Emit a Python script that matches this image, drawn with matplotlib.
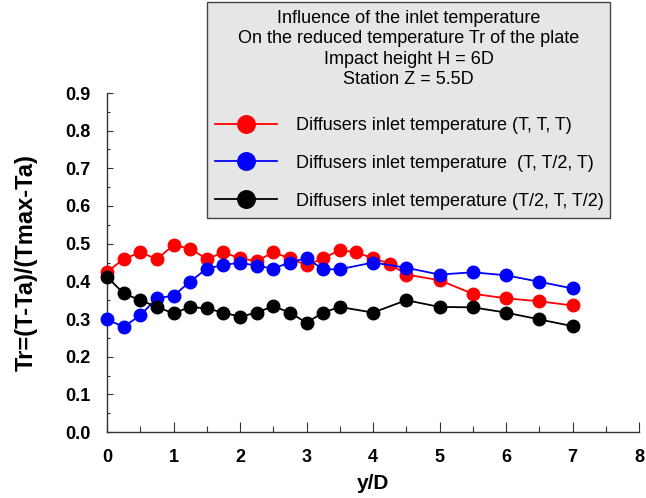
import matplotlib.pyplot as plt
from matplotlib.ticker import MultipleLocator

plt.rcParams['font.family'] = ['Liberation Sans', 'DejaVu Sans']

# y/D positions and reduced temperature values
x_red = [0, 0.25, 0.5, 0.75, 1.0, 1.25, 1.5, 1.75, 2.0, 2.25, 2.5, 2.75,
         3.0, 3.25, 3.5, 3.75, 4.0, 4.25, 4.5, 5.0, 5.5, 6.0, 6.5, 7.0]
tr_red = [0.425, 0.459, 0.477, 0.459, 0.496, 0.487, 0.459, 0.477, 0.461, 0.454, 0.477, 0.461,
          0.443, 0.461, 0.483, 0.477, 0.461, 0.447, 0.418, 0.403, 0.367, 0.355, 0.347, 0.336]

x_other = [0, 0.25, 0.5, 0.75, 1.0, 1.25, 1.5, 1.75, 2.0, 2.25, 2.5, 2.75,
           3.0, 3.25, 3.5, 4.0, 4.5, 5.0, 5.5, 6.0, 6.5, 7.0]
tr_blue = [0.299, 0.279, 0.310, 0.355, 0.362, 0.399, 0.434, 0.443, 0.450, 0.441, 0.434, 0.450,
           0.462, 0.432, 0.432, 0.450, 0.436, 0.418, 0.424, 0.416, 0.399, 0.381]
tr_black = [0.412, 0.368, 0.350, 0.332, 0.315, 0.332, 0.328, 0.317, 0.306, 0.317, 0.334, 0.317,
            0.290, 0.317, 0.332, 0.317, 0.350, 0.332, 0.331, 0.317, 0.299, 0.281]

labels = ['Diffusers inlet temperature (T, T, T)',
          'Diffusers inlet temperature  (T, T/2, T)',
          'Diffusers inlet temperature (T/2, T, T/2)']
title = ('Influence of the inlet temperature\n'
         'On the reduced temperature Tr of the plate\n'
         'Impact height H = 6D\n'
         'Station Z = 5.5D')

fig = plt.figure(figsize=(6.46, 4.98), dpi=100)
ax = fig.add_axes([107 / 646, 1 - 432 / 498, 532 / 646, 339 / 498])

h1, = ax.plot(x_red, tr_red, color='#ff0000', lw=1.3, marker='o', ms=9, clip_on=False, zorder=3)
h2, = ax.plot(x_other, tr_blue, color='#0000ff', lw=1.3, marker='o', ms=9, clip_on=False, zorder=3)
h3, = ax.plot(x_other, tr_black, color='black', lw=1.3, marker='o', ms=9, clip_on=False, zorder=4)

ax.set_xlim(0, 8)
ax.set_ylim(0, 0.9)
ax.xaxis.set_major_locator(MultipleLocator(1))
ax.xaxis.set_minor_locator(MultipleLocator(0.5))
ax.yaxis.set_major_locator(MultipleLocator(0.1))
ax.yaxis.set_minor_locator(MultipleLocator(0.05))
ax.yaxis.set_major_formatter(lambda v, p: f'{v:.1f}')

for s in ['top', 'right']:
    ax.spines[s].set_visible(False)
for s in ['left', 'bottom']:
    ax.spines[s].set_color('#333333')
    ax.spines[s].set_linewidth(1.0)

ax.tick_params(axis='x', which='major', direction='in', length=7, width=0.8, color='#333333', pad=12)
ax.tick_params(axis='x', which='minor', direction='in', length=4, width=0.8, color='#333333')
ax.tick_params(axis='y', which='major', direction='in', length=4, width=0.8, color='#333333', pad=12)
ax.tick_params(axis='y', which='minor', direction='in', length=2.5, width=0.8, color='#333333')
for lab in ax.get_xticklabels() + ax.get_yticklabels():
    lab.set_fontweight('bold')
    lab.set_fontsize(13)

ax.set_xlabel('y/D', fontsize=15, fontweight='bold')
ax.set_ylabel('Tr=(T-Ta)/(Tmax-Ta)', fontsize=17, fontweight='bold')
ax.xaxis.set_label_coords(0.5, -0.125)
ax.yaxis.set_label_coords(-0.13, 0.5)

leg = ax.legend([h1, h2, h3], labels, title=title, fontsize=13, title_fontsize=13,
                loc='upper left', bbox_to_anchor=(207 / 646, 0.5, 403 / 646, 0.496),
                bbox_transform=fig.transFigure, mode='expand', borderaxespad=0,
                borderpad=0.45, handlelength=3.4, handletextpad=1.1, labelspacing=1.15,
                markerscale=1.4, fancybox=False, framealpha=1, facecolor='#e6e6e6',
                edgecolor='#444444')
leg.get_frame().set_linewidth(1.0)
leg.get_title().set_multialignment('center')
leg.get_title().set_linespacing(1.25)
# wider gap between the title block and the entries
leg._legend_box.sep = 21

fig.savefig('out.png', dpi=100)
